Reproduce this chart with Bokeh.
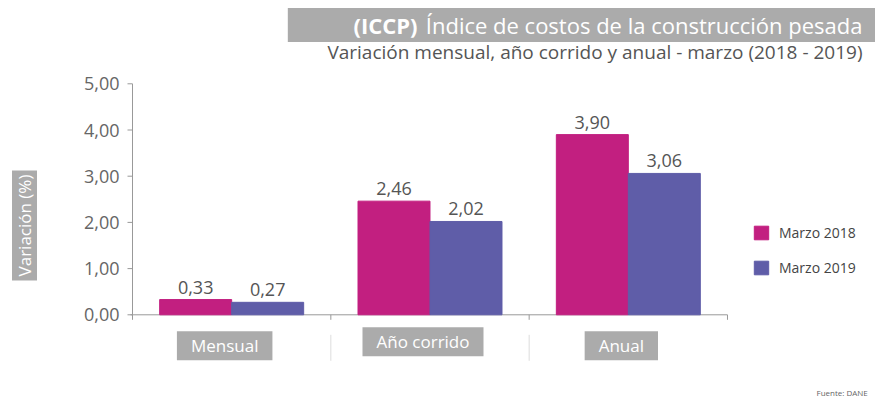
from bokeh.plotting import figure
from bokeh.models import Label, Range1d, Legend, LegendItem
from bokeh.embed import file_html
from bokeh.resources import INLINE
from bokeh.core.properties import value

# ---- data ----
categories = ["Mensual", "Año corrido", "Anual"]
series = ["Marzo 2018", "Marzo 2019"]
v2018 = [0.33, 2.46, 3.90]
v2019 = [0.27, 2.02, 3.06]
y_ticks = [0, 1, 2, 3, 4, 5]
y_tick_labels = ["0,00", "1,00", "2,00", "3,00", "4,00", "5,00"]

FONT = "Open Sans"
PINK = "#C21F80"
PURPLE = "#5F5DA8"
GREY_BOX = "#ABABAB"
AXIS = "#999999"

W, H = 875, 400
# pixel geometry of the plotting area inside the full-canvas frame
X0_PX, X_UNIT = 132.0, 198.33   # px of x=0 from left, px per category
Y0_PX, Y_UNIT = 85.7, 46.2      # px of y=0 from bottom, px per 1.00

x_range = Range1d(-X0_PX / X_UNIT, (W - X0_PX) / X_UNIT)
y_range = Range1d(-Y0_PX / Y_UNIT, (H - Y0_PX) / Y_UNIT)

p = figure(width=W, height=H, output_backend="svg", toolbar_location=None,
           x_range=x_range, y_range=y_range,
           x_axis_location=None, y_axis_location=None,
           min_border=0)
p.outline_line_color = None
p.xgrid.grid_line_color = None
p.ygrid.grid_line_color = None
p.background_fill_color = "white"
p.border_fill_color = "white"

tick_x = 5 / X_UNIT
tick_y = 5 / Y_UNIT
n = len(categories)

# y axis
p.segment(x0=[0], y0=[y_ticks[0]], x1=[0], y1=[y_ticks[-1]], line_color=AXIS, line_width=1)
p.segment(x0=[-tick_x] * len(y_ticks), x1=[0] * len(y_ticks), y0=y_ticks, y1=y_ticks,
          line_color=AXIS, line_width=1)
p.text(x=[0] * len(y_ticks), y=y_ticks, text=y_tick_labels, x_offset=-13,
       text_align="right", text_baseline="middle", text_font=value(FONT),
       text_font_size="18px", text_color="#666666")

# x axis
bounds = list(range(n + 1))
p.segment(x0=[-0.01], y0=[0], x1=[n], y1=[0], line_color=AXIS, line_width=1)
p.segment(x0=bounds, x1=bounds, y0=[0] * len(bounds), y1=[-tick_y] * len(bounds),
          line_color=AXIS, line_width=1)

# bars
bw = 0.363
centers = [i + 0.5 for i in range(n)]
x18 = [c - bw / 2 for c in centers]
x19 = [c + bw / 2 for c in centers]
r18 = p.vbar(x=x18, top=v2018, bottom=0, width=bw, fill_color=PINK, line_color=PINK)
r19 = p.vbar(x=x19, top=v2019, bottom=0, width=bw, fill_color=PURPLE, line_color=PURPLE)

def fmt(v):
    return f"{v:.2f}".replace(".", ",")

for xs, vs in ((x18, v2018), (x19, v2019)):
    p.text(x=xs, y=vs, text=[fmt(v) for v in vs], text_align="center",
           text_baseline="bottom", y_offset=-6, text_font=value(FONT),
           text_font_size="18px", text_color="#555555")

# separators between category labels
seps = list(range(1, n))
p.segment(x0=seps, x1=seps, y0=[-20 / Y_UNIT] * len(seps), y1=[-46 / Y_UNIT] * len(seps),
          line_color="#dddddd", line_width=1)

# category labels (grey boxes below axis)
cat_y_offsets = [-31, -27, -31]
for c, name, yo in zip(centers, categories, cat_y_offsets):
    p.add_layout(Label(x=c, y=0, x_offset=-7, y_offset=yo, text=name,
                       text_align="center", text_baseline="middle",
                       text_font=FONT, text_font_size="17px", text_color="white",
                       background_fill_color=GREY_BOX, padding=(14, 3)))

# legend
legend = Legend(items=[LegendItem(label=series[0], renderers=[r18]),
                       LegendItem(label=series[1], renderers=[r19])],
                location=(752, H - 277), orientation="vertical",
                glyph_width=18, glyph_height=17, label_height=17,
                label_standoff=9, spacing=16, margin=0, padding=0,
                border_line_color=None, background_fill_alpha=0,
                label_text_font=FONT, label_text_font_size="14px",
                label_text_color="#444444")
p.add_layout(legend, "center")

# y axis title
p.add_layout(Label(x=24, y=H - 225, x_units="screen", y_units="screen",
                   text="Variación (%)", angle=1.5708, text_align="center",
                   text_baseline="middle", text_font=FONT, text_font_size="17px",
                   text_color="white", background_fill_color=GREY_BOX,
                   padding=(4, 1)))

# title: grey band with text, bold acronym on top
p.add_layout(Label(x=W, y=H - 24.5, x_units="screen", y_units="screen",
                   text="Índice de costos de la construcción pesada",
                   text_align="right", text_baseline="middle", text_font=FONT,
                   text_font_size="22px", text_color="white",
                   background_fill_color=GREY_BOX, padding=(138, 13, 2, 2)))
p.add_layout(Label(x=417, y=H - 24.5, x_units="screen", y_units="screen",
                   text="(ICCP)", text_align="right", text_baseline="middle",
                   text_font=FONT, text_font_style="bold", text_font_size="22px",
                   text_color="white"))

# subtitle
p.add_layout(Label(x=862, y=H - 51, x_units="screen", y_units="screen",
                   text="Variación mensual, año corrido y anual - marzo (2018 - 2019)",
                   text_align="right", text_baseline="middle", text_font=FONT,
                   text_font_size="19px", text_color="#555555"))

# source
p.add_layout(Label(x=816, y=H - 392, x_units="screen", y_units="screen",
                   text="Fuente: DANE", text_align="left", text_baseline="middle",
                   text_font=FONT, text_font_size="8px", text_color="#666666"))

open("out.html", "w").write(file_html(p, INLINE))
